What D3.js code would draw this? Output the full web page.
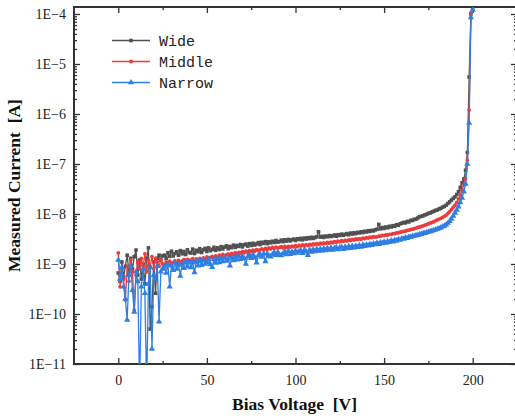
<!DOCTYPE html>
<html><head><meta charset="utf-8">
<script src="https://cdn.jsdelivr.net/npm/d3@7"></script>
<style>body{margin:0;background:#fff;overflow:hidden} svg{display:block}</style>
</head><body><svg id="c" width="515" height="419"></svg>
<script>
// Bias voltage [V]
const voltage = d3.range(0, 201);
// Measured current in nA (x 1e-9 A)
const wide = [
0.66,0.45,1.1,0.55,0.9,1.5,0.7,1.3,0.8,1.4,1.9,0.6,1.2,0.5,1.0,0.4,1.3,2.1,0.05,0.14,1.1,0.26,1.3,1.5,1.2,1.45,
1.50,1.30,1.68,1.42,1.80,1.45,1.62,1.75,1.50,1.85,
1.60,1.78,1.55,1.92,1.70,1.66,1.98,1.62,1.88,1.75,
2.02,1.70,1.92,2.05,1.78,2.10,1.85,1.96,2.15,1.88,
2.10,1.95,2.22,2.00,2.18,2.30,2.02,2.25,2.12,2.38,
2.15,2.35,2.25,2.45,2.20,2.42,2.50,2.28,2.55,2.35,
2.60,2.40,2.52,2.68,2.45,2.72,2.58,2.80,2.55,2.78,
2.65,2.85,2.70,2.95,2.75,2.82,3.00,2.80,3.05,2.88,
3.10,2.90,3.05,3.15,2.95,3.20,3.08,3.25,3.05,3.30,
3.15,3.35,3.22,3.42,3.25,3.38,3.50,4.40,3.45,3.58,
3.40,3.62,3.50,3.70,3.55,3.65,3.80,3.60,3.85,3.72,
3.95,3.75,3.92,4.05,3.85,4.15,3.98,4.20,4.05,4.30,
4.18,4.40,4.25,4.50,4.38,4.62,4.48,4.70,4.60,4.82,
4.95,6.20,5.05,5.35,5.15,5.50,5.30,5.68,5.50,5.85,
5.70,6.10,5.95,6.35,6.55,6.80,6.65,7.10,6.95,7.45,
7.45,7.80,7.90,8.30,8.80,9.00,9.20,9.60,9.85,10.3,
10.5,11.0,11.3,11.8,12.0,12.6,13.0,13.7,14.2,15.0,
16.2,17.5,19.0,20.5,22.0,24.5,28.0,34.0,42.0,50.0,75.0,170,
5500,100000,125000];
const middle = [
1.66,0.35,0.8,0.5,0.19,0.9,0.45,1.2,0.7,0.12,0.6,1.1,0.8,1.3,0.9,1.6,0.7,1.2,0.9,1.4,0.8,1.3,1.1,0.9,1.2,1.0,
0.95,1.10,0.98,1.14,1.02,1.08,1.16,1.04,1.18,1.08,
1.14,1.22,1.08,1.24,1.15,1.20,1.28,1.14,1.26,1.22,
1.30,1.20,1.32,1.26,1.38,1.28,1.35,1.42,1.32,1.46,
1.38,1.50,1.42,1.55,1.45,1.52,1.60,1.50,1.62,1.56,
1.68,1.58,1.70,1.66,1.76,1.68,1.80,1.72,1.84,1.78,
1.90,1.80,1.94,1.86,1.92,2.00,1.90,2.06,1.96,2.10,
2.02,2.14,2.05,2.18,2.08,2.15,2.22,2.10,2.24,2.14,
2.26,2.16,2.28,2.20,2.32,2.22,2.36,2.28,2.40,2.30,
2.44,2.34,2.48,2.40,2.52,2.44,2.56,2.48,2.60,2.52,
2.64,2.56,2.70,2.60,2.74,2.66,2.80,2.72,2.86,2.78,
2.92,2.84,2.98,2.90,3.04,2.96,3.10,3.02,3.16,3.10,
3.22,3.14,3.30,3.22,3.36,3.30,3.44,3.38,3.52,3.46,
3.50,3.62,3.60,3.72,3.70,3.82,3.80,3.92,3.92,4.04,
4.05,4.18,4.20,4.32,4.38,4.50,4.56,4.70,4.76,4.90,
4.98,5.12,5.22,5.38,5.50,5.66,5.80,6.00,6.15,6.38,
6.55,6.80,7.00,7.30,7.60,7.90,8.20,8.55,9.00,9.50,
10.3,11.2,12.3,13.6,15.0,17.0,20.0,24.0,30.0,38.0,50.0,120,
1200,105000,120000];
const narrow = [
1.2,0.5,0.85,0.35,0.2,0.076,0.6,0.9,0.3,0.11,0.7,0.45,0.003,0.35,0.8,0.26,0.003,0.4,0.85,0.02,0.6,0.5,0.9,0.07,0.7,0.8,
0.88,0.66,0.98,0.35,0.92,0.75,1.05,0.80,0.96,0.58,
1.00,0.82,1.10,0.88,1.12,0.85,1.06,0.68,1.14,0.92,
1.18,0.95,1.20,1.00,1.08,1.24,0.98,0.86,1.25,1.05,
1.28,1.08,1.30,1.12,1.34,1.15,1.28,0.92,1.36,1.18,
1.40,1.22,1.44,1.25,1.42,1.30,1.00,1.40,1.50,1.30,
1.52,1.35,1.06,1.48,1.58,1.38,1.60,1.12,1.62,1.45,
1.40,1.55,1.70,1.50,1.72,1.54,1.48,1.62,1.76,1.56,
1.80,1.58,1.74,1.62,1.84,1.66,1.78,1.86,1.64,1.90,
1.76,1.50,1.92,1.74,1.95,1.78,1.98,1.82,2.00,1.84,
2.04,1.86,2.06,1.90,2.10,1.92,2.08,2.14,1.95,2.12,
2.18,1.98,2.20,2.04,2.24,2.08,2.28,2.12,2.30,2.16,
2.36,2.20,2.40,2.26,2.44,2.32,2.50,2.38,2.56,2.46,
2.64,2.50,2.70,2.58,2.76,2.64,2.84,2.72,2.92,2.80,
3.00,2.90,3.12,3.02,3.24,3.16,3.38,3.30,3.50,3.44,
3.60,3.62,3.74,3.78,3.90,3.95,4.08,4.14,4.28,4.36,
4.48,4.58,4.72,4.84,5.00,5.12,5.35,5.55,5.80,6.10,
6.60,7.20,8.00,9.10,10.5,12.0,14.0,17.0,21.0,28.0,40.0,100,
660,85000,120000];

const seriesNames = ["Wide", "Middle", "Narrow"];
const seriesColors = ["#505050", "#ee3b3b", "#2f7fe3"];
const xTickValues = [0, 50, 100, 150, 200];
const xMinorValues = [25, 75, 125, 175];
const yDecades = [1e-11, 1e-10, 1e-9, 1e-8, 1e-7, 1e-6, 1e-5, 1e-4];
const yTickLabels = ["1E\u221211", "1E\u221210", "1E\u22129", "1E\u22128", "1E\u22127", "1E\u22126", "1E\u22125", "1E\u22124"];

const svg = d3.select("#c");
const L = 74, R = 517, T = 7, B = 364;
const x = d3.scaleLinear().domain([-25, 225]).range([L, R]);
const y = d3.scaleLog().domain([1e-11, 1e-4 * Math.pow(10, (14 - T) / 50)]).range([B, T]);

const yMinor = [];
for (let e = -11; e <= -5; e++) for (let k = 2; k <= 9; k++) yMinor.push(k * Math.pow(10, e));

const serif = "Liberation Serif, Times New Roman, serif";
const axisColor = "#333";

function styleAxis(g) {
  g.attr("font-family", serif).attr("font-size", 14);
  g.select(".domain").remove();
  g.selectAll(".tick line").attr("stroke", axisColor).attr("stroke-width", 1.3);
  g.selectAll(".tick text").attr("fill", "#222").attr("font-family", serif).attr("font-size", 14);
}

// bottom
svg.append("g").attr("transform", `translate(0,${B})`)
  .call(d3.axisBottom(x).tickValues(xTickValues).tickSize(-6).tickSizeOuter(0).tickPadding(11).tickFormat(d3.format("d")))
  .call(styleAxis);
svg.append("g").attr("transform", `translate(0,${B})`)
  .call(d3.axisBottom(x).tickValues(xMinorValues).tickSize(-3).tickSizeOuter(0).tickFormat(""))
  .call(styleAxis);
// top
svg.append("g").attr("transform", `translate(0,${T})`)
  .call(d3.axisTop(x).tickValues(xTickValues).tickSize(-6).tickSizeOuter(0).tickFormat(""))
  .call(styleAxis);
svg.append("g").attr("transform", `translate(0,${T})`)
  .call(d3.axisTop(x).tickValues(xMinorValues).tickSize(-3).tickSizeOuter(0).tickFormat(""))
  .call(styleAxis);
// left
svg.append("g").attr("transform", `translate(${L},0)`)
  .call(d3.axisLeft(y).tickValues(yDecades).tickSize(-6).tickSizeOuter(0).tickPadding(8).tickFormat((d, i) => yTickLabels[i]))
  .call(styleAxis);
svg.append("g").attr("transform", `translate(${L},0)`)
  .call(d3.axisLeft(y).tickValues(yMinor).tickSize(-3).tickSizeOuter(0).tickFormat(""))
  .call(styleAxis);
// right
svg.append("g").attr("transform", `translate(${R},0)`)
  .call(d3.axisRight(y).tickValues(yDecades).tickSize(-6).tickSizeOuter(0).tickFormat(""))
  .call(styleAxis);
svg.append("g").attr("transform", `translate(${R},0)`)
  .call(d3.axisRight(y).tickValues(yMinor).tickSize(-3).tickSizeOuter(0).tickFormat(""))
  .call(styleAxis);

// frame
svg.append("rect").attr("x", L).attr("y", T).attr("width", R - L).attr("height", B - T)
  .attr("fill", "none").attr("stroke", axisColor).attr("stroke-width", 2);

// clip
svg.append("defs").append("clipPath").attr("id", "clip")
  .append("rect").attr("x", L).attr("y", T).attr("width", R - L).attr("height", B - T);

const allSeries = [wide, middle, narrow];
const plot = svg.append("g").attr("clip-path", "url(#clip)");
const line = d3.line().x((d, i) => x(voltage[i])).y(d => y(d * 1e-9));

function drawMarker(sel, idx) {
  if (idx === 0) {
    sel.append("rect").attr("x", -1.8).attr("y", -1.8).attr("width", 3.6).attr("height", 3.6);
  } else if (idx === 1) {
    sel.append("circle").attr("r", 1.9);
  } else {
    sel.append("path").attr("d", d3.symbol(d3.symbolTriangle, 17)());
  }
}

allSeries.forEach((vals, si) => {
  const col = seriesColors[si];
  plot.append("path").datum(vals).attr("d", line)
    .attr("fill", "none").attr("stroke", col).attr("stroke-width", 1.3).attr("stroke-linejoin", "round");
  const mg = plot.append("g").attr("fill", col);
  vals.forEach((v, i) => {
    const g = mg.append("g").attr("transform", `translate(${x(voltage[i])},${y(v * 1e-9)})`);
    drawMarker(g, si);
  });
});

// legend
const legendY = [40.5, 61.5, 82.5];
seriesNames.forEach((name, i) => {
  const g = svg.append("g");
  g.append("line").attr("x1", 112).attr("x2", 150).attr("y1", legendY[i]).attr("y2", legendY[i])
    .attr("stroke", seriesColors[i]).attr("stroke-width", 1.3);
  const m = g.append("g").attr("transform", `translate(131,${legendY[i]})`).attr("fill", seriesColors[i]);
  drawMarker(m, i);
  g.append("text").attr("x", 159).attr("y", legendY[i]).attr("dy", "0.36em")
    .attr("font-family", "Liberation Mono, DejaVu Sans Mono, monospace").attr("font-size", 15)
    .attr("fill", "#222").text(name);
});

// titles
svg.append("text").attr("x", (L + 517) / 2 - 1).attr("y", 410).attr("text-anchor", "middle")
  .attr("font-family", serif).attr("font-size", 17.5).attr("font-weight", "bold").style("white-space", "pre")
  .attr("fill", "#111").text("Bias Voltage  [V]");
svg.append("text").attr("transform", `translate(20,${(T + B) / 2}) rotate(-90)`).attr("text-anchor", "middle")
  .attr("font-family", serif).attr("font-size", 17.5).attr("font-weight", "bold").style("white-space", "pre")
  .attr("fill", "#111").text("Measured Current  [A]");
</script>
</body></html>
